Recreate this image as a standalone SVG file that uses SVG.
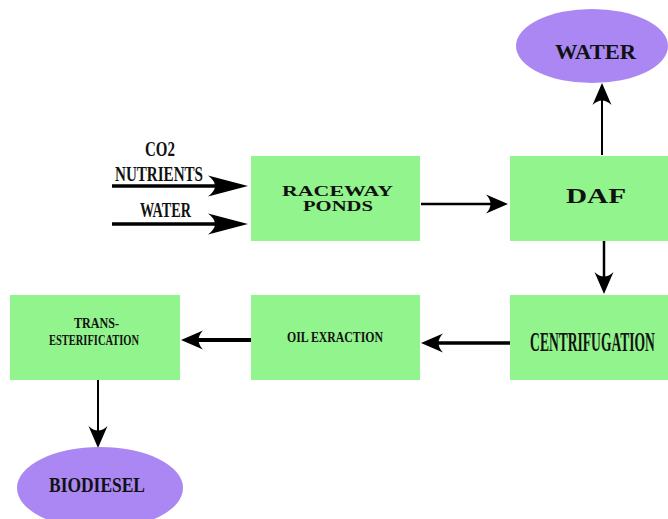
<svg xmlns="http://www.w3.org/2000/svg" width="668" height="519" viewBox="0 0 668 519">
<style>
.box{fill:#92f48c;}
.ell{fill:#aa87f3;}
.t{font-family:"Liberation Serif","DejaVu Serif",serif;font-weight:bold;fill:#111;}
.c{stroke:#000;fill:none;}
</style>
<defs>
<marker id="ah" markerUnits="userSpaceOnUse" viewBox="-24 -11 26 22" markerWidth="26" markerHeight="22" refX="-9" refY="0" orient="auto">
<path d="M0,0 L-22,-9.5 Q-13,0 -22,9.5 Z" fill="#000"/>
</marker>
<marker id="ahl" markerUnits="userSpaceOnUse" viewBox="-42 -12 44 24" markerWidth="44" markerHeight="24" refX="-16" refY="0" orient="auto">
<path d="M0,0 L-40,-10.5 Q-26,0 -40,10.5 Z" fill="#000"/>
</marker>
</defs>
<g id="connectors">
<line class="c" x1="112" y1="186" x2="232" y2="186" stroke-width="3.5" marker-end="url(#ahl)"/>
<line class="c" x1="112" y1="224" x2="232" y2="224" stroke-width="3.5" marker-end="url(#ahl)"/>
<line class="c" x1="421" y1="204" x2="499" y2="204" stroke-width="2.5" marker-end="url(#ah)"/>
<line class="c" x1="602" y1="155" x2="602" y2="92" stroke-width="2" marker-end="url(#ah)"/>
<line class="c" x1="604" y1="241" x2="604" y2="285" stroke-width="2.5" marker-end="url(#ah)"/>
<line class="c" x1="510" y1="343" x2="430" y2="343" stroke-width="3.5" marker-end="url(#ah)"/>
<line class="c" x1="251" y1="340" x2="190" y2="340" stroke-width="4" marker-end="url(#ah)"/>
<line class="c" x1="98" y1="380" x2="98" y2="439" stroke-width="2" marker-end="url(#ah)"/>
</g>
<g id="inputs">
<text class="t" x="160" y="156" font-size="21" text-anchor="middle" textLength="30" lengthAdjust="spacingAndGlyphs">CO2</text>
<text class="t" x="159" y="181" font-size="21" text-anchor="middle" textLength="88" lengthAdjust="spacingAndGlyphs">NUTRIENTS</text>
<text class="t" x="165.5" y="217" font-size="21" text-anchor="middle" textLength="51" lengthAdjust="spacingAndGlyphs">WATER</text>
</g>
<g id="raceway">
<rect class="box" x="251" y="156" width="169" height="85"/>
<text class="t" x="337.5" y="196" font-size="14" text-anchor="middle" textLength="111" lengthAdjust="spacingAndGlyphs">RACEWAY</text>
<text class="t" x="338" y="211" font-size="14" text-anchor="middle" textLength="70" lengthAdjust="spacingAndGlyphs">PONDS</text>
</g>
<g id="daf">
<rect class="box" x="510" y="156" width="158" height="85"/>
<text class="t" x="596" y="203" font-size="22" text-anchor="middle" textLength="60" lengthAdjust="spacingAndGlyphs">DAF</text>
</g>
<g id="water-out">
<ellipse class="ell" cx="592" cy="46" rx="76" ry="37"/>
<text class="t" x="595.5" y="59" font-size="21" text-anchor="middle" textLength="81" lengthAdjust="spacingAndGlyphs">WATER</text>
</g>
<g id="centrifugation">
<rect class="box" x="510" y="295" width="158" height="85"/>
<text class="t" transform="translate(592.5,351) scale(0.48,1)" x="0" y="0" font-size="28" text-anchor="middle" textLength="260" lengthAdjust="spacingAndGlyphs">CENTRIFUGATION</text>
</g>
<g id="oil-extraction">
<rect class="box" x="251" y="295" width="169" height="85"/>
<text class="t" x="335" y="342" font-size="15" text-anchor="middle" textLength="96" lengthAdjust="spacingAndGlyphs">OIL EXRACTION</text>
</g>
<g id="transesterification">
<rect class="box" x="10" y="295" width="170" height="85"/>
<text class="t" x="96.5" y="328" font-size="15" text-anchor="middle" textLength="45" lengthAdjust="spacingAndGlyphs">TRANS-</text>
<text class="t" x="94" y="345" font-size="15" text-anchor="middle" textLength="90" lengthAdjust="spacingAndGlyphs">ESTERIFICATION</text>
</g>
<g id="biodiesel">
<ellipse class="ell" cx="100" cy="488" rx="83" ry="41"/>
<text class="t" x="97" y="492" font-size="21" text-anchor="middle" textLength="96" lengthAdjust="spacingAndGlyphs">BIODIESEL</text>
</g>
</svg>
